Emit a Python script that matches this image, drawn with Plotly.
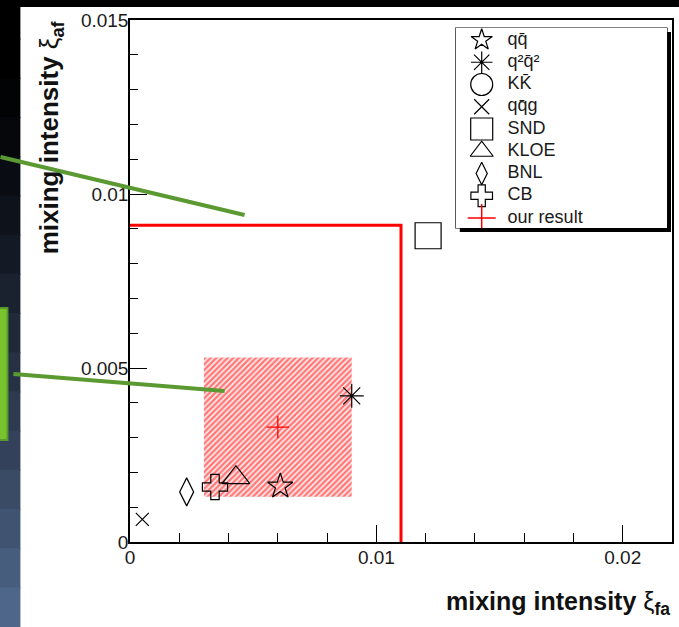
import plotly.graph_objects as go

# ---------------- data ----------------
MODELS = ["qq̄", "q²q̄²", "KK̄", "qq̄g", "SND", "KLOE", "BNL", "CB"]
XI_FA = [0.0061, 0.0090, None, 0.0005, 0.0121, 0.0043, 0.0023, 0.00345]
XI_AF = [0.0016, 0.0042, None, 0.00065, 0.0088, 0.00185, 0.00144, 0.00158]

OUR_LABEL = "our result"
OUR_FA = 0.0060
OUR_AF = 0.0033
OUR_FA_ERR = 0.0030
OUR_AF_ERR = 0.0020

LIMIT_FA = 0.0110
LIMIT_AF = 0.0091

X_TICKS = [0, 0.01, 0.02]
Y_TICKS = [0, 0.005, 0.01, 0.015]

# ---------------- styles ----------------
SYMBOLS = ["star-open", "asterisk-open", "circle-open", "x-thin-open",
           "square-open", "triangle-up-open", "diamond-tall-open", "cross-open"]
SIZES = [19, 20, 20, 13, 26, 24, 20, 21]
LEG_SIZES = [16, 18, 22, 15, 22, 20, 16, 18]

FONT = "Liberation Sans, Arial, Helvetica, sans-serif"
W_FIG, H_FIG = 679, 627
L, R, T, B = 130, 5, 20, 85
PW = W_FIG - L - R
PH = H_FIG - T - B


def px(x):
    return (x - L) / PW


def py(y):
    return (T + PH - y) / PH


fig = go.Figure()

# hatched uncertainty region of our result
bx = [OUR_FA - OUR_FA_ERR, OUR_FA + OUR_FA_ERR, OUR_FA + OUR_FA_ERR,
      OUR_FA - OUR_FA_ERR, OUR_FA - OUR_FA_ERR]
by = [OUR_AF - OUR_AF_ERR, OUR_AF - OUR_AF_ERR, OUR_AF + OUR_AF_ERR,
      OUR_AF + OUR_AF_ERR, OUR_AF - OUR_AF_ERR]
fig.add_trace(go.Scatter(
    x=bx, y=by, mode="lines", line=dict(width=0, color="rgba(0,0,0,0)"),
    fill="toself", fillcolor="rgba(255,0,0,0.15)",
    fillpattern=dict(shape="/", fgcolor="#ff0000", bgcolor="#fff0f0",
                     size=4, solidity=0.6),
    showlegend=False, hoverinfo="skip"))

# upper limit lines
fig.add_trace(go.Scatter(
    x=[0, LIMIT_FA, LIMIT_FA], y=[LIMIT_AF, LIMIT_AF, 0], mode="lines",
    line=dict(color="#ff0000", width=3), showlegend=False, hoverinfo="skip"))

# model / experiment points
for i, name in enumerate(MODELS):
    if XI_FA[i] is None:
        continue
    fig.add_trace(go.Scatter(
        x=[XI_FA[i]], y=[XI_AF[i]], mode="markers", name=name,
        marker=dict(symbol=SYMBOLS[i], size=SIZES[i], color="black",
                    line=dict(color="black", width=1.2)),
        showlegend=False))

# our result
fig.add_trace(go.Scatter(
    x=[OUR_FA], y=[OUR_AF], mode="markers", name=OUR_LABEL,
    marker=dict(symbol="cross-thin-open", size=16, color="#ff0000",
                line=dict(color="#ff0000", width=1.3)),
    showlegend=False))

# ---------------- hand-drawn ROOT style legend ----------------
LEG_BOX = (457, 28, 669, 228)  # pixel box
LEG_KEY_X = 483
LEG_TEXT_X = 509
LEG_ROW0 = 40
LEG_ROW_STEP = 22.25
leg_labels = MODELS + [OUR_LABEL]
leg_rows = [LEG_ROW0 + LEG_ROW_STEP * i for i in range(len(leg_labels))]
for i, name in enumerate(MODELS):
    fig.add_trace(go.Scatter(
        x=[LEG_KEY_X], y=[leg_rows[i]], xaxis="x2", yaxis="y2", mode="markers",
        marker=dict(symbol=SYMBOLS[i], size=LEG_SIZES[i], color="black",
                    line=dict(color="black", width=1.2)),
        showlegend=False, hoverinfo="skip"))
fig.add_trace(go.Scatter(
    x=[LEG_KEY_X], y=[leg_rows[-1]], xaxis="x2", yaxis="y2", mode="markers",
    marker=dict(symbol="cross-thin-open", size=20, color="#ff0000",
                line=dict(color="#ff0000", width=1.5)),
    showlegend=False, hoverinfo="skip"))
fig.add_trace(go.Scatter(
    x=[LEG_TEXT_X] * len(leg_labels), y=leg_rows, xaxis="x2", yaxis="y2",
    mode="text", text=leg_labels, textposition="middle right",
    textfont=dict(family=FONT, size=18, color="#1a1a1a"),
    showlegend=False, hoverinfo="skip"))

# ---------------- decorative shapes (slide background) ----------------
shapes = []
strip_colors = ["#000000", "#000000", "#020305", "#05070b", "#090c12", "#0e121b",
                "#141a25", "#1a212f", "#202939", "#263144", "#2d3a4f", "#33425a",
                "#3a4b66", "#405471", "#475d7d", "#4d6689"]
n = len(strip_colors)
y_top, y_bot = 0, H_FIG
step = (y_bot - y_top) / n
for k, c in enumerate(strip_colors):
    shapes.append(dict(type="rect", xref="paper", yref="paper",
                       x0=px(-2), x1=px(20), y0=py(y_top + step * k - 0.5),
                       y1=py(y_top + step * (k + 1) + 0.5),
                       fillcolor=c, line=dict(width=0), layer="above"))
shapes.append(dict(type="rect", xref="paper", yref="paper",
                   x0=px(-2), x1=px(W_FIG + 2), y0=py(7), y1=py(-2),
                   fillcolor="#000000", line=dict(width=0), layer="above"))
# green callout box on the left
shapes.append(dict(type="rect", xref="paper", yref="paper",
                   x0=px(-6), x1=px(7), y0=py(440), y1=py(308),
                   fillcolor="#78c22e", line=dict(color="#5a9a2c", width=2),
                   layer="above"))
# green pointer lines
shapes.append(dict(type="line", xref="paper", yref="paper",
                   x0=px(0), y0=py(157), x1=px(245), y1=py(215),
                   line=dict(color="#5b9a32", width=4), layer="above"))
shapes.append(dict(type="line", xref="paper", yref="paper",
                   x0=px(13), y0=py(374), x1=px(225), y1=py(391),
                   line=dict(color="#5b9a32", width=4), layer="above"))
# legend shadow + box
x0b, y0b, x1b, y1b = LEG_BOX
shapes.append(dict(type="rect", xref="paper", yref="paper",
                   x0=px(x0b + 4), x1=px(x1b + 4), y0=py(y1b + 4), y1=py(y0b + 4),
                   fillcolor="#000000", line=dict(width=0), layer="below"))
shapes.append(dict(type="rect", xref="paper", yref="paper",
                   x0=px(x0b), x1=px(x1b), y0=py(y1b), y1=py(y0b),
                   fillcolor="#ffffff", line=dict(color="#000000", width=1.2),
                   layer="below"))

annotations = [
    dict(xref="paper", yref="paper", x=px(674), y=py(603), xanchor="right",
         yanchor="middle", showarrow=False,
         text="<b>mixing intensity</b> ξ<sub><b>fa</b></sub>",
         font=dict(family=FONT, size=25, color="#111111")),
    dict(xref="paper", yref="paper", x=px(50), y=py(137), xanchor="center",
         yanchor="middle", showarrow=False, textangle=-90,
         text="<b>mixing intensity</b> ξ<sub><b>af</b></sub>",
         font=dict(family=FONT, size=26, color="#111111")),
]

axis_common = dict(
    ticks="inside", tickcolor="black", tickwidth=1.2, ticklen=17,
    showline=True, mirror=True, linecolor="black", linewidth=1.5,
    showgrid=False, zeroline=False,
    tickfont=dict(family=FONT, size=19, color="#1a1a1a"),
)

fig.update_layout(
    width=W_FIG, height=H_FIG, autosize=False,
    margin=dict(l=L, r=R, t=T, b=B, pad=0),
    paper_bgcolor="white", plot_bgcolor="white",
    showlegend=False,
    xaxis=dict(range=[0, 0.022], tickmode="array", tickvals=X_TICKS,
               ticktext=[f"{v:g}" for v in X_TICKS], ticklabelstandoff=-3,
               minor=dict(tick0=0, dtick=0.002, ticks="inside", ticklen=9,
                          tickcolor="black", tickwidth=1.2),
               **axis_common),
    yaxis=dict(range=[0, 0.015], tickmode="array", tickvals=Y_TICKS,
               ticktext=[f"{v:g}" for v in Y_TICKS], ticklabelstandoff=-4,
               minor=dict(tick0=0, dtick=0.001, ticks="inside", ticklen=8,
                          tickcolor="black", tickwidth=1.2),
               **axis_common),
    xaxis2=dict(domain=[px(x0b), px(x1b)], range=[x0b, x1b], anchor="y2",
                visible=False, showgrid=False, zeroline=False),
    yaxis2=dict(domain=[py(y1b), py(y0b)], range=[y1b, y0b], anchor="x2",
                visible=False, showgrid=False, zeroline=False),
    shapes=shapes,
    annotations=annotations,
)

fig.write_html("out.html")
